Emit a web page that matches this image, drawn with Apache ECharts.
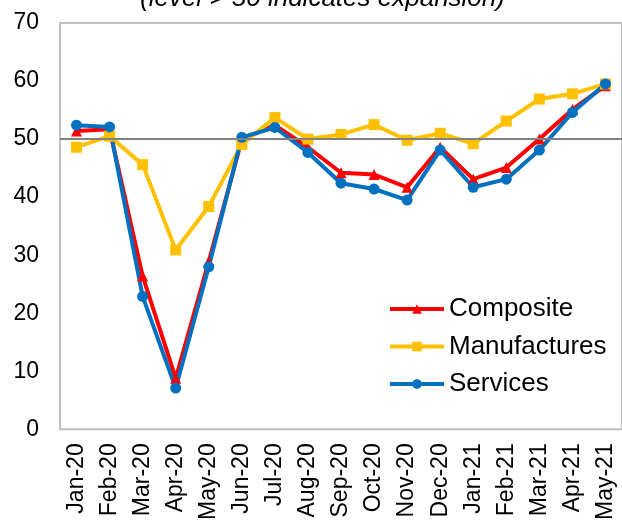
<!DOCTYPE html>
<html>
<head>
<meta charset="utf-8">
<script src="https://cdn.jsdelivr.net/npm/echarts@6/dist/echarts.min.js"></script>
<style>
  html, body { margin: 0; padding: 0; background: #fff; }
  #chart { width: 622px; height: 523px; }
</style>
</head>
<body>
<div id="chart"></div>
<script>
// PMI readings, Jan-20 to May-21
const months = ['Jan-20','Feb-20','Mar-20','Apr-20','May-20','Jun-20','Jul-20','Aug-20','Sep-20','Oct-20','Nov-20','Dec-20','Jan-21','Feb-21','Mar-21','Apr-21','May-21'];
const composite    = [51.4, 51.7, 26.4, 8.8, 28.9, 49.9, 52.4, 48.6, 44.2, 43.9, 41.7, 48.6, 43.1, 45.1, 50.0, 55.1, 59.2];
const manufactures = [48.6, 50.5, 45.6, 30.9, 38.4, 49.1, 53.7, 50.0, 50.8, 52.5, 49.8, 51.0, 49.2, 53.1, 56.9, 57.8, 59.5];
const services     = [52.4, 52.1, 22.9, 7.1, 28.0, 50.3, 52.0, 47.7, 42.4, 41.4, 39.5, 48.1, 41.7, 43.1, 48.1, 54.6, 59.5];
const yTicks = { min: 0, max: 70, interval: 10 };
const expansionLevel = 50;

const FONT = '"Liberation Sans", Arial, sans-serif';

const chart = echarts.init(document.getElementById('chart'), null, { renderer: 'canvas' });

function lineSeries(name, data, color, symbol, size) {
  return {
    name, type: 'line', data,
    symbol, symbolSize: size,
    lineStyle: { color, width: 4 },
    itemStyle: { color },
    animation: false
  };
}

const series = [
  lineSeries('Composite', composite, '#FF0000', 'triangle', 11),
  lineSeries('Manufactures', manufactures, '#FFC000', 'rect', 11),
  lineSeries('Services', services, '#0070C0', 'circle', 11)
];
// reference line at the expansion threshold
series[0].markLine = {
  silent: true, symbol: 'none', label: { show: false },
  lineStyle: { color: '#808080', width: 2, type: 'solid' },
  data: [{ yAxis: expansionLevel }]
};

chart.setOption({
  animation: false,
  grid: { left: 60, top: 23, width: 571, height: 409, show: true, borderColor: '#BFBFBF', borderWidth: 2, containLabel: false },
  graphic: [{
    type: 'text', left: 140, top: -14,
    style: { text: '(level > 50 indicates expansion)', font: 'italic 26px ' + FONT, fill: '#000' }
  }],
  legend: {
    orient: 'vertical', left: 388, top: 296, padding: 0,
    itemWidth: 54, itemHeight: 12, itemGap: 11.5,
    lineStyle: { width: 4 },
    textStyle: { fontFamily: FONT, fontSize: 26, lineHeight: 26, color: '#000' },
    data: ['Composite', 'Manufactures', 'Services']
  },
  xAxis: {
    type: 'category', data: months, boundaryGap: true,
    axisLine: { show: false }, axisTick: { show: false },
    axisLabel: { rotate: 90, margin: 14, fontFamily: FONT, fontSize: 23, color: '#000', interval: 0 }
  },
  yAxis: {
    type: 'value', min: yTicks.min, max: yTicks.max, interval: yTicks.interval,
    axisLine: { show: false }, axisTick: { show: false }, splitLine: { show: false },
    axisLabel: { margin: 21, fontFamily: FONT, fontSize: 23, color: '#000' }
  },
  series
});
</script>
</body>
</html>
